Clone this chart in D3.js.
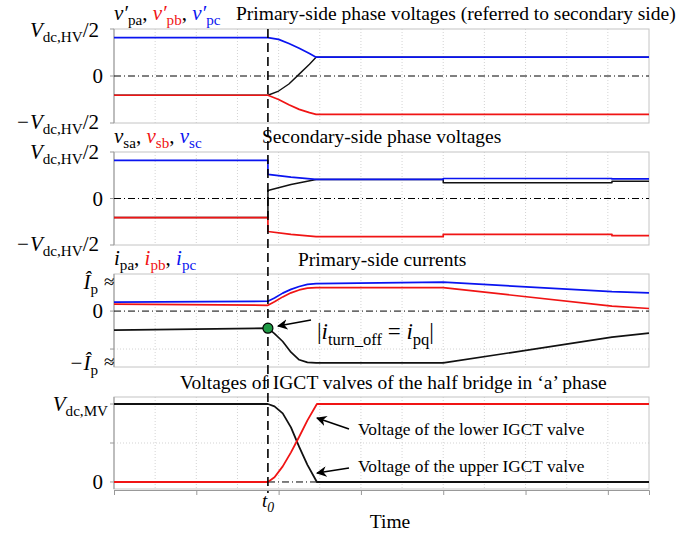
<!DOCTYPE html>
<html>
<head>
<meta charset="utf-8">
<style>
  body { margin: 0; background: #fff; }
  svg { font-family: "Liberation Serif", "Times New Roman", serif; }
</style>
</head>
<body>
<svg width="692" height="534"></svg>
<script src="https://d3js.org/d3.v7.min.js"></script>
<script>

// ---- data (time in grid units, values normalised per panel) ----
var T0 = 3.74;

var p1Time = [0, 3.74, 4.0, 4.25, 4.5, 4.75, 4.91, 13];
var p1A = [-0.41, -0.41, -0.32, -0.17, 0.04, 0.25, 0.40, 0.40];
var p1B = [-0.41, -0.41, -0.50, -0.61, -0.71, -0.78, -0.815, -0.815];
var p1C = [0.815, 0.815, 0.78, 0.69, 0.59, 0.48, 0.40, 0.40];

var p2Time = [0, 3.74, 3.74, 4.3, 4.91, 8.0, 8.0, 12.1, 12.1, 13];
var p2A = [-0.41, -0.41, 0.17, 0.30, 0.41, 0.41, 0.34, 0.34, 0.37, 0.37];
var p2B = [-0.41, -0.41, -0.71, -0.77, -0.82, -0.82, -0.77, -0.77, -0.80, -0.80];
var p2C = [0.82, 0.82, 0.52, 0.46, 0.41, 0.41, 0.43, 0.43, 0.42, 0.42];

var p3Time = [0, 3.74, 3.9, 4.1, 4.3, 4.5, 4.7, 4.91, 8.0, 12.1, 13];
var p3A = [-0.66, -0.59, -0.78, -1.05, -1.42, -1.68, -1.77, -1.79, -1.79, -0.90, -0.76];
var p3B = [0.24, 0.20, 0.32, 0.49, 0.63, 0.73, 0.79, 0.81, 0.81, 0.17, 0.09];
var p3C = [0.31, 0.34, 0.45, 0.62, 0.75, 0.85, 0.92, 0.95, 1.0, 0.67, 0.63];

var p4Time = [0, 3.74, 3.9, 4.1, 4.3, 4.5, 4.7, 4.93, 13];
var p4Upper = [1, 1, 0.97, 0.88, 0.70, 0.45, 0.22, 0, 0];
var p4Lower = [0, 0, 0.06, 0.20, 0.38, 0.58, 0.79, 1, 1];

var timeTicks = [0, 2, 4, 6, 8, 10, 12];

var svg = d3.select("svg");

var x = d3.scaleLinear().domain([0, 13]).range([114, 649]);

var panels = [
  { y: d3.scaleLinear().domain([-1, 1]).range([123, 29]), grid: [] },
  { y: d3.scaleLinear().domain([-1, 1]).range([245, 152]), grid: [] },
  { y: d3.scaleLinear().domain([-1.93, 1.28]).range([367, 274]), grid: [-1.31] },
  { y: d3.scaleLinear().domain([-0.09, 1.09]).range([489, 397]), grid: [0.5] }
];

// rich text helper: parts = [text, opts]; sub parts drop below the baseline
function rich(g, px, py, anchor, size, parts) {
  var t = g.append("text")
      .attr("x", px).attr("y", py)
      .attr("text-anchor", anchor)
      .attr("font-size", size);
  var cur = 0;
  parts.forEach(function(p) {
    var o = p[1] || {};
    var s = t.append("tspan").text(p[0]);
    var shift = o.sub ? size * 0.25 : 0;
    if (shift !== cur) s.attr("dy", shift - cur);
    cur = shift;
    if (o.i) s.attr("font-style", "italic");
    if (o.c) s.attr("fill", o.c);
    if (o.sub) s.attr("font-size", size * 0.72);
  });
  return t;
}

// frames, grids, zero lines
panels.forEach(function(p, i) {
  var g = svg.append("g");
  var y0 = p.y.range()[1], y1 = p.y.range()[0];

  g.selectAll(".vg")
    .data(d3.range(1, 13))
    .enter().append("line")
      .attr("x1", function(d) { return x(d); })
      .attr("x2", function(d) { return x(d); })
      .attr("y1", y0).attr("y2", y1)
      .attr("stroke", "#c8c8c8")
      .attr("stroke-width", 0.8)
      .attr("stroke-dasharray", "1,2");

  g.selectAll(".hg")
    .data(p.grid)
    .enter().append("line")
      .attr("x1", x(0)).attr("x2", x(13))
      .attr("y1", function(d) { return p.y(d); })
      .attr("y2", function(d) { return p.y(d); })
      .attr("stroke", "#c8c8c8")
      .attr("stroke-width", 0.8)
      .attr("stroke-dasharray", "1,2");

  g.append("rect")
    .attr("x", x(0)).attr("y", y0)
    .attr("width", x(13) - x(0)).attr("height", y1 - y0)
    .attr("fill", "none")
    .attr("stroke", "#c4c4c4");

  g.append("line")
    .attr("x1", x(0)).attr("x2", x(0))
    .attr("y1", y0).attr("y2", y1)
    .attr("stroke", "#999");

  g.append("line")
    .attr("x1", x(0)).attr("x2", x(13))
    .attr("y1", p.y(0)).attr("y2", p.y(0))
    .attr("stroke", "#000")
    .attr("stroke-width", 1)
    .attr("stroke-dasharray", "7,3,1,3");
});

// bottom time axis
svg.append("g")
    .attr("transform", "translate(0,490)")
    .call(d3.axisBottom(x).tickValues(timeTicks).tickSize(5).tickFormat(""))
  .call(function(g) {
    g.selectAll("line, path").attr("stroke", "#999");
  });

// y tick marks on the left axis
var yTicks = [[0, [1, 0, -1]], [1, [1, 0, -1]], [2, [1, 0, -1.31, -1.76]], [3, [1, 0.5, 0]]];
yTicks.forEach(function(d) {
  var p = panels[d[0]];
  svg.append("g").selectAll("line")
    .data(d[1])
    .enter().append("line")
      .attr("x1", x(0) - 4).attr("x2", x(0))
      .attr("y1", function(v) { return p.y(v); })
      .attr("y2", function(v) { return p.y(v); })
      .attr("stroke", "#999");
});

// series
var line = d3.line()
    .x(function(d) { return x(d[0]); })
    .y(function(d) { return d[1]; });

function draw(p, time, vals, color, w) {
  svg.append("path")
    .datum(time.map(function(t, k) { return [t, p.y(vals[k])]; }))
    .attr("fill", "none")
    .attr("stroke", color)
    .attr("stroke-width", w || 1.7)
    .attr("stroke-linejoin", "round")
    .attr("d", line);
}

var BLUE = "#0a14f0", RED = "#f01414", BLACK = "#111";

draw(panels[0], p1Time, p1A, BLACK, 1.4);
draw(panels[0], p1Time, p1B, RED);
draw(panels[0], p1Time, p1C, BLUE);

draw(panels[1], p2Time, p2A, BLACK, 1.5);
draw(panels[1], p2Time, p2B, RED);
draw(panels[1], p2Time, p2C, BLUE);

draw(panels[2], p3Time, p3A, BLACK);
draw(panels[2], p3Time, p3B, RED);
draw(panels[2], p3Time, p3C, BLUE);

draw(panels[3], p4Time, p4Upper, BLACK, 1.8);
draw(panels[3], p4Time, p4Lower, RED, 1.8);

// t0 dashed marker
svg.append("line")
  .attr("x1", x(T0)).attr("x2", x(T0))
  .attr("y1", 29).attr("y2", 493)
  .attr("stroke", "#000")
  .attr("stroke-width", 1.6)
  .attr("stroke-dasharray", "9,5");

// turn-off point
svg.append("circle")
  .attr("cx", x(T0)).attr("cy", panels[2].y(-0.59))
  .attr("r", 5)
  .attr("fill", "#1f9a45")
  .attr("stroke", "#000")
  .attr("stroke-width", 1.2);

// arrows
var defs = svg.append("defs");
defs.append("marker")
    .attr("id", "ah")
    .attr("viewBox", "0 0 10 10")
    .attr("refX", 9).attr("refY", 5)
    .attr("markerWidth", 7).attr("markerHeight", 7)
    .attr("orient", "auto")
  .append("path")
    .attr("d", "M0,0 L10,5 L0,10 L3,5 Z")
    .attr("fill", "#000");

function arrow(x1, y1, x2, y2) {
  svg.append("line")
    .attr("x1", x1).attr("y1", y1)
    .attr("x2", x2).attr("y2", y2)
    .attr("stroke", "#000")
    .attr("stroke-width", 1.5)
    .attr("marker-end", "url(#ah)");
}

arrow(311, 320, 278, 326);
arrow(349, 429, 317, 418);
arrow(349, 468, 317, 473);

// titles
var title = svg.append("g").attr("font-size", 19.5).attr("fill", "#000");
title.append("text").attr("x", 236).attr("y", 20).text("Primary-side phase voltages (referred to secondary side)");
title.append("text").attr("x", 262).attr("y", 143).text("Secondary-side phase voltages");
title.append("text").attr("x", 298).attr("y", 266).text("Primary-side currents");
title.append("text").attr("x", 180).attr("y", 389).text("Voltages of IGCT valves of the half bridge in \u2018a\u2019 phase");

svg.append("text").attr("x", 358).attr("y", 435).attr("font-size", 17.3)
  .text("Voltage of the lower IGCT valve");
svg.append("text").attr("x", 358).attr("y", 472).attr("font-size", 17.3)
  .text("Voltage of the upper IGCT valve");

svg.append("text").attr("x", 390).attr("y", 528).attr("font-size", 19.5)
  .attr("text-anchor", "middle").text("Time");
rich(svg, x(T0) - 6, 507, "start", 19, [["t", { i: true }], ["0", { i: true, sub: true }]]);

// legends
var sz = 21;
rich(svg, 114, 20, "start", sz, [
  ["v\u2032", { i: true }], ["pa", { sub: true }], [", "],
  ["v\u2032", { i: true, c: RED }], ["pb", { sub: true, c: RED }], [", "],
  ["v\u2032", { i: true, c: BLUE }], ["pc", { sub: true, c: BLUE }]
]);
rich(svg, 114, 143, "start", sz, [
  ["v", { i: true }], ["sa", { sub: true }], [", "],
  ["v", { i: true, c: RED }], ["sb", { sub: true, c: RED }], [", "],
  ["v", { i: true, c: BLUE }], ["sc", { sub: true, c: BLUE }]
]);
rich(svg, 114, 265, "start", sz, [
  ["i", { i: true }], ["pa", { sub: true }], [", "],
  ["i", { i: true, c: RED }], ["pb", { sub: true, c: RED }], [", "],
  ["i", { i: true, c: BLUE }], ["pc", { sub: true, c: BLUE }]
]);

// y labels
function vhv(py, neg) {
  rich(svg, 99, py, "end", sz, [
    [neg ? "\u2212V" : "V", { i: true }], ["dc,HV", { sub: true }], ["/2"]
  ]);
}
function zero(p, px) {
  svg.append("text").attr("x", px).attr("y", p.y(0) + 7)
    .attr("text-anchor", "end").attr("font-size", sz).text("0");
}
vhv(37, false); zero(panels[0], 103); vhv(129, true);
vhv(159, false); zero(panels[1], 103); vhv(251, true);

rich(svg, 98, panels[2].y(1) + 7, "end", sz, [["\u00CE", { i: true }], ["p", { sub: true }]]);
zero(panels[2], 103);
rich(svg, 98, panels[2].y(-1.76) + 8, "end", sz, [["\u2212\u00CE", { i: true }], ["p", { sub: true }]]);
svg.append("text").attr("x", 104).attr("y", panels[2].y(1) + 6).attr("font-size", 19).text("\u2248");
svg.append("text").attr("x", 104).attr("y", panels[2].y(-1.76) + 6).attr("font-size", 19).text("\u2248");

rich(svg, 108, panels[3].y(1) + 7, "end", sz, [["V", { i: true }], ["dc,MV", { sub: true }]]);
zero(panels[3], 103);

// turn-off annotation
rich(svg, 317, 339, "start", 23, [
  ["|"], ["i", { i: true }], ["turn_off", { sub: true }], [" = "],
  ["i", { i: true }], ["pq", { sub: true }], ["|"]
]);

</script>
</body>
</html>
